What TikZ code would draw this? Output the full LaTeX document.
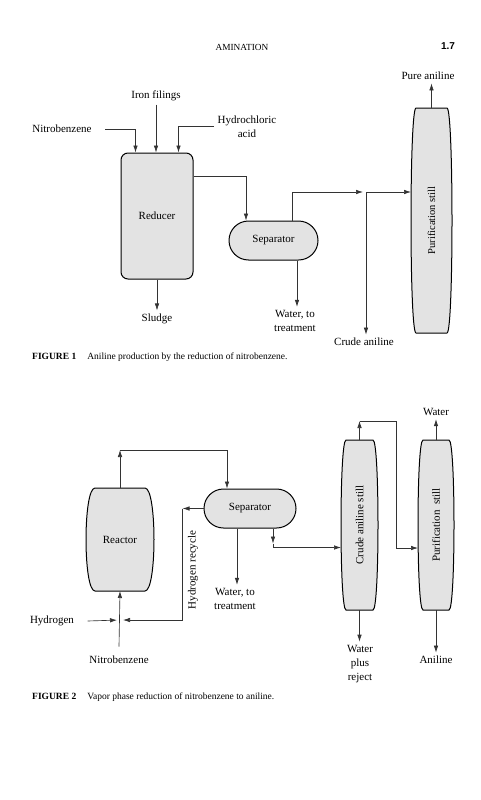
\documentclass[tikz,border=0pt]{standalone}
\usepackage{fontspec}
\setmainfont{Liberation Serif}
\newfontfamily\headsans{Liberation Sans}
\usetikzlibrary{calc,arrows.meta,shapes.misc}
\tikzstyle{vessel}=[draw,line width=1pt,fill=black!11]
\tikzstyle{tank}=[vessel,rectangle,rounded corners=7pt,minimum width=72pt,minimum height=126pt]
\tikzstyle{drum}=[vessel,rounded rectangle,inner sep=0pt]
\tikzstyle{shell}=[inner sep=0pt,outer sep=0pt]
\tikzstyle{flow}=[draw,line width=0.65pt,black!80,-{Latex[length=7pt,width=4.5pt]}]
\tikzstyle{stream}=[font=\fontsize{11}{14}\selectfont,align=center]
\tikzstyle{caption}=[font=\fontsize{9.5}{11}\selectfont,anchor=west,inner sep=0pt]
\newcommand{\drawbarrel}[2]{%
  \draw[vessel] ($(#1.north west)+(#2,0)$) -- ($(#1.north east)+(-#2,0)$)
    .. controls ($(#1.north east)+(#2/3,0)$) and ($(#1.south east)+(#2/3,0)$) .. ($(#1.south east)+(-#2,0)$)
    -- ($(#1.south west)+(#2,0)$)
    .. controls ($(#1.south west)+(-#2/3,0)$) and ($(#1.north west)+(-#2/3,0)$) .. cycle;}

\begin{document}
\begin{tikzpicture}[x=1pt,y=-1pt]
        \useasboundingbox (0,0) rectangle (481,800);
        \node[font=\fontsize{9.3}{11}\selectfont] (head) at (242,47) {AMINATION};
        \node[font=\headsans\bfseries\fontsize{10}{12}\selectfont] (page) at (448,46) {1.7};

        % figure 1
        \node[tank,stream] (reducer) at (157,216) {Reducer};
        \node[drum,stream,minimum width=89pt,minimum height=39pt] (sep1) at (273.5,240.5) {Separator};
        \node[shell,minimum width=41pt,minimum height=225pt] (still1) at (431.5,220.5) {};
        \drawbarrel{still1}{5}
        \node[stream,rotate=90,font=\fontsize{10.5}{12}\selectfont] (still1_text) at (still1) {Purification still};

        \node[stream] (nitro1) at (62,129) {Nitrobenzene};
        \node[stream] (iron) at (156,96) {Iron filings};
        \node[stream] (hcl) at (247,126.5) {Hydrochloric\\acid};
        \node[stream] (sludge) at (157,319) {Sludge};
        \node[stream] (water1) at (295,321) {Water, to\\treatment};
        \node[stream] (crude) at (364,342) {Crude aniline};
        \node[stream] (pure) at (428,76) {Pure aniline};
        \coordinate (j1) at (366,192);
        \path ($(sep1.south)+(23.5,0)$) coordinate (w1out);
        \path ($(sep1.north)+(18.5,0)$) coordinate (c1out);

        \path[flow] (nitro1.east) ++(10,0) -| ($(reducer.north west)+(15,0)$);
        \path[flow] (iron.south) -- (iron.south |- reducer.north);
        \path[flow] (hcl.west) -| ($(reducer.north east)+(-15,0)$);
        \path[flow] ($(reducer.north east)+(0,24)$) -| ($(sep1.north)+(-27.5,0)$);
        \path[flow] (reducer.south) -- (reducer.south |- sludge.north);
        \path[flow] (w1out) -- (w1out |- water1.north);
        \path[flow,shorten >=3pt] (c1out) |- (j1);
        \path[flow] (j1) -- (j1 -| still1.west);
        \path[flow] (j1) -- (j1 |- crude.north);
        \path[flow] (still1.north) -- (still1.north |- pure.south);

        \node[caption] (cap1) at (32,357) {\textbf{FIGURE 1}\hspace{11pt}Aniline production by the reduction of nitrobenzene.};

        % figure 2
        \node[shell,minimum width=68pt,minimum height=103pt] (reactor) at (120,539.5) {};
        \drawbarrel{reactor}{9}
        \node[stream] (reactor_text) at (reactor) {Reactor};
        \node[drum,stream,minimum width=92pt,minimum height=39pt] (sep2) at (250,508.5) {Separator};
        \node[shell,minimum width=37pt,minimum height=170pt] (still2a) at (359.5,525) {};
        \drawbarrel{still2a}{5}
        \node[stream,rotate=90] (still2a_text) at (still2a) {Crude aniline still};
        \node[shell,minimum width=36pt,minimum height=170pt] (still2b) at (436,525) {};
        \drawbarrel{still2b}{5}
        \node[stream,rotate=90] (still2b_text) at (still2b) {Purification\ \ still};

        \node[stream] (hyd) at (52,621) {Hydrogen};
        \node[stream] (nitro2) at (119,660) {Nitrobenzene};
        \node[stream,rotate=90] (hrec) at (193,570) {Hydrogen recycle};
        \node[stream] (water2) at (235,599) {Water, to\\treatment};
        \node[stream] (wpr) at (360,664) {Water\\plus\\reject};
        \node[stream] (water3) at (436,412) {Water};
        \node[stream] (aniline) at (436,660) {Aniline};

        \path (reactor.north) ++(0,-38) coordinate (c1);
        \path (reactor.south) ++(0,29) coordinate (feed);
        \path (sep2.west) ++(-21,0) coordinate (h1);
        \path ($(sep2.south)+(-13,0)$) coordinate (w2out);
        \path ($(sep2.south)+(23,0)$) coordinate (s2out) ++(0,15) coordinate (k0) ++(0,4) coordinate (k1);
        \path (still2a.north) ++(0,-19) coordinate (t1);
        \coordinate (t2) at (396,548);

        \path[flow] (reactor.north) -- (c1);
        \path[flow] (c1) -| ($(sep2.north)+(-23,0)$);
        \path[flow] (sep2.west) -- (h1);
        \path[flow,shorten >=3pt] (h1) |- (feed);
        \path[flow,shorten >=3pt] (hyd.east) ++(10,0) -- (feed);
        \path[flow] (nitro2.north) ++(0,-6) -- (reactor.south);
        \path[flow] (w2out) -- (w2out |- water2.north);
        \path[flow] (s2out) -- (k0);
        \path[flow] (k0) -- (k1) -- (k1 -| still2a.west);
        \path[flow] (still2a.north) -- (t1);
        \path[flow] (t1) -| (t2) -- (t2 -| still2b.west);
        \path[flow] (still2a.south) -- (still2a.south |- wpr.north);
        \path[flow] (still2b.north) -- (still2b.north |- water3.south);
        \path[flow] (still2b.south) -- (still2b.south |- aniline.north);

        \node[caption] (cap2) at (32,697) {\textbf{FIGURE 2}\hspace{11pt}Vapor phase reduction of nitrobenzene to aniline.};
    \end{tikzpicture}
\end{document}
